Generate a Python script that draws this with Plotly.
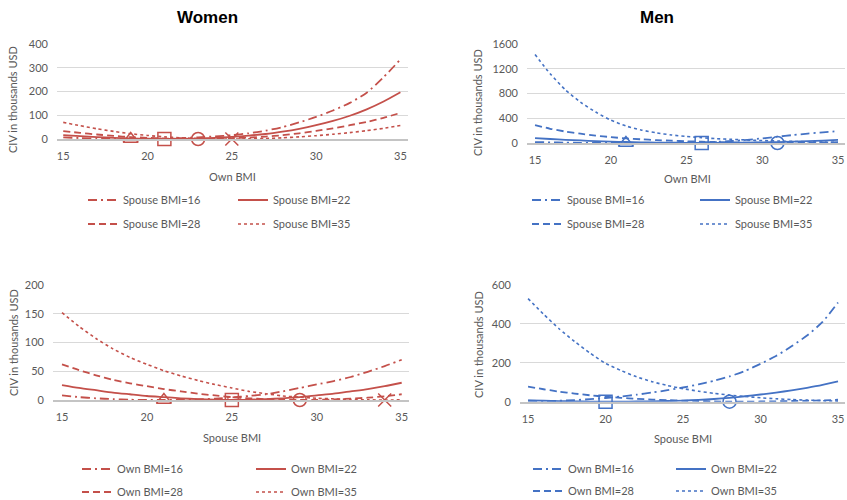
import plotly.graph_objects as go

W, H = 847, 500
bmi = list(range(15, 36))

# Women, CIV vs own BMI, by spouse BMI
w_own_sp16 = [7, 4, 2, 0.5, 0, 0.5, 2, 4, 7, 11, 16, 24, 35, 50, 70, 93, 120, 152, 195, 260, 335]
w_own_sp22 = [16, 12, 8, 5, 2.5, 1, 0, 0.5, 2, 5, 9, 14, 21, 31, 43, 58, 76, 98, 125, 158, 197]
w_own_sp28 = [33, 26, 19, 13, 8, 5, 2, 0.5, 0, 1, 3, 6, 10, 16, 24, 34, 45, 58, 72, 89, 110]
w_own_sp35 = [70, 56, 43, 32, 22, 15, 9, 5, 2, 0.5, 0, 0.5, 2, 5, 9, 14, 20, 27, 35, 45, 57]
w_own_min = [19, 21, 23, 25]

# Men, CIV vs own BMI, by spouse BMI
m_own_sp16 = [15, 10, 6, 3, 1, 0.3, 0, 0.5, 2, 4, 7, 12, 20, 32, 50, 75, 102, 128, 152, 172, 192]
m_own_sp22 = [80, 65, 52, 41, 31, 23, 16, 10, 6, 3, 1, 0, 1, 3, 6, 10, 15, 22, 30, 40, 52]
m_own_sp28 = [290, 230, 185, 150, 120, 95, 75, 60, 47, 37, 28, 21, 15, 10, 6, 3, 0, 2, 5, 9, 14]
m_own_sp35 = [1430, 1120, 860, 660, 500, 370, 275, 210, 165, 130, 105, 85, 70, 58, 48, 40, 33, 26, 20, 15, 10]
m_own_min = [21, 26, 31, None]

# Women, CIV vs spouse BMI, by own BMI
w_sp_own16 = [8, 5, 3, 1.5, 0.5, 0.1, 0, 0.3, 1, 2.5, 4.5, 7, 10, 15, 21, 27, 33, 40, 49, 59, 70]
w_sp_own22 = [26, 21, 17, 13, 10, 7, 5, 3, 1.5, 0.5, 0, 0.5, 1.5, 3, 5, 8, 11, 15, 19, 24, 30]
w_sp_own28 = [62, 52, 43, 35, 29, 24, 19, 15, 11, 8, 5, 3, 1.5, 0.5, 0, 0.3, 1, 2.5, 4, 6.5, 10]
w_sp_own35 = [152, 128, 107, 89, 74, 62, 51, 42, 34, 27, 21, 15, 11, 7, 5, 3, 2, 1, 0.3, 0, 0.3]
w_sp_min = [21, 25, 29, 34]

# Men, CIV vs spouse BMI, by own BMI
m_sp_own16 = [5, 4, 5, 8, 13, 19, 27, 36, 47, 59, 73, 89, 108, 130, 158, 195, 235, 285, 340, 410, 510]
m_sp_own22 = [7, 5, 3, 1.5, 0.5, 0, 0.3, 1, 2, 3.5, 6, 9, 14, 20, 28, 37, 47, 58, 71, 86, 104]
m_sp_own28 = [78, 64, 52, 42, 33, 26, 20, 15, 11, 8, 5.5, 3.5, 1.5, 0, 0.5, 1, 2, 3.5, 5, 7, 10]
m_sp_own35 = [530, 450, 375, 310, 250, 197, 160, 128, 103, 83, 67, 54, 43, 34, 27, 20, 15, 11, 8, 5, 3]
m_sp_min = [None, 20, 28, None]

spouse_names = ["Spouse BMI=16", "Spouse BMI=22", "Spouse BMI=28", "Spouse BMI=35"]
own_names = ["Own BMI=16", "Own BMI=22", "Own BMI=28", "Own BMI=35"]

RED = "#C4504A"
BLUE = "#4472C4"
GRAY = "#595959"
FONT = "Lato, Carlito, sans-serif"

dashes = ["9px,4px,2px,4px", "solid", "7px,4px", "dot"]
widths = [1.8, 1.8, 1.8, 1.6]
symbols = ["triangle-up-open", "square-open", "circle-open", "x-thin-open"]

def px(v):
    return v / W

def py(v):
    return 1 - v / H

panels = [
    ([w_own_sp16, w_own_sp22, w_own_sp28, w_own_sp35], spouse_names, RED, w_own_min,
     (57, 408), (44, 139), [14.63, 35.45], [0, 400], 100),
    ([m_own_sp16, m_own_sp22, m_own_sp28, m_own_sp35], spouse_names, BLUE, m_own_min,
     (527, 845), (44, 143), [14.47, 35.46], [0, 1600], 400),
    ([w_sp_own16, w_sp_own22, w_sp_own28, w_sp_own35], own_names, RED, w_sp_min,
     (53, 409), (285, 400), [14.47, 35.43], [0, 200], 50),
    ([m_sp_own16, m_sp_own22, m_sp_own28, m_sp_own35], own_names, BLUE, m_sp_min,
     (520, 845), (285, 401.7), [14.48, 35.45], [0, 600], 200),
]

# legend placement: (text start col1, text start col2, row1 y, row2 y)
legend_pos = [
    (123, 273, 200, 224),
    (567, 735, 200, 224),
    (117, 291, 469, 492),
    (568, 711, 469, 491),
]

fig = go.Figure()
layout = dict(
    width=W, height=H, margin=dict(l=0, r=0, t=0, b=0, autoexpand=False),
    paper_bgcolor="white", plot_bgcolor="white",
    font=dict(family=FONT, size=11, color=GRAY),
    showlegend=True,
)

for i, (series, names, color, mins, dx, dy, xr, yr, dt) in enumerate(panels):
    n = i + 1
    xa = "x" if n == 1 else f"x{n}"
    ya = "y" if n == 1 else f"y{n}"
    lg_a = "legend" if i == 0 else f"legend{2 * i + 1}"
    lg_b = f"legend{2 * i + 2}"
    for k, (s, name) in enumerate(zip(series, names)):
        fig.add_trace(go.Scatter(
            x=bmi, y=s, mode="lines", name=name, xaxis=xa, yaxis=ya,
            line=dict(color=color, width=widths[k], dash=dashes[k], shape="spline", smoothing=0.6),
            legend=lg_a if k < 2 else lg_b, hoverinfo="skip",
        ))
    for k, (s, m) in enumerate(zip(series, mins)):
        if m is None:
            continue
        fig.add_trace(go.Scatter(
            x=[m], y=[s[bmi.index(m)]], mode="markers", showlegend=False,
            xaxis=xa, yaxis=ya, cliponaxis=False, hoverinfo="skip",
            marker=dict(symbol=symbols[k], size=13, color=color,
                        line=dict(color=color, width=1.5)),
        ))
    layout[f"xaxis{'' if n == 1 else n}"] = dict(
        domain=[px(dx[0]), px(dx[1])], range=xr, anchor=ya,
        tickmode="array", tickvals=[15, 20, 25, 30, 35], ticks="",
        showgrid=False, zeroline=False, showline=True, linecolor="#C4C4C4", linewidth=2,
        tickfont=dict(size=11, color=GRAY), ticklabelstandoff=6,
    )
    layout[f"yaxis{'' if n == 1 else n}"] = dict(
        domain=[py(dy[1]), py(dy[0])], range=yr, anchor=xa, dtick=dt, tick0=0,
        showgrid=True, gridcolor="#D9D9D9", gridwidth=1, zeroline=False, ticks="",
        tickfont=dict(size=11, color=GRAY), ticklabelstandoff=8,
    )
    t1, t2, r1, r2 = legend_pos[i]
    step = t2 - t1
    for lg, ry in ((lg_a, r1), (lg_b, r2)):
        layout[lg] = dict(
            orientation="h", x=px(t1 - 40), xanchor="left", y=py(ry), yanchor="middle",
            entrywidth=step - 45, entrywidthmode="pixels", bgcolor="rgba(0,0,0,0)",
            font=dict(family=FONT, size=11, color=GRAY), itemclick=False,
            tracegroupgap=0,
        )

annotations = [
    dict(text="<b>Women</b>", x=px(207), y=py(17), font=dict(family="Liberation Sans, Arial", size=17, color="black")),
    dict(text="<b>Men</b>", x=px(657), y=py(17), font=dict(family="Liberation Sans, Arial", size=17, color="black")),
    dict(text="Own BMI", x=px(232), y=py(176)),
    dict(text="Own BMI", x=px(687), y=py(178)),
    dict(text="Spouse BMI", x=px(232), y=py(437)),
    dict(text="Spouse BMI", x=px(683), y=py(438)),
    dict(text="CIV in thousands USD", x=px(13), y=py(100), textangle=-90),
    dict(text="CIV in thousands USD", x=px(478), y=py(103), textangle=-90),
    dict(text="CIV in thousands USD", x=px(13), y=py(343), textangle=-90),
    dict(text="CIV in thousands USD", x=px(478), y=py(345), textangle=-90),
]
for a in annotations:
    a.setdefault("font", dict(family=FONT, size=11, color=GRAY))
    a.update(xref="paper", yref="paper", showarrow=False, xanchor="center", yanchor="middle")
layout["annotations"] = annotations

fig.update_layout(**layout)
fig.write_html(
    "out.html",
    config={"displayModeBar": False, "staticPlot": True},
    post_script="document.body.style.margin='0';document.body.style.overflow='hidden';",
)
